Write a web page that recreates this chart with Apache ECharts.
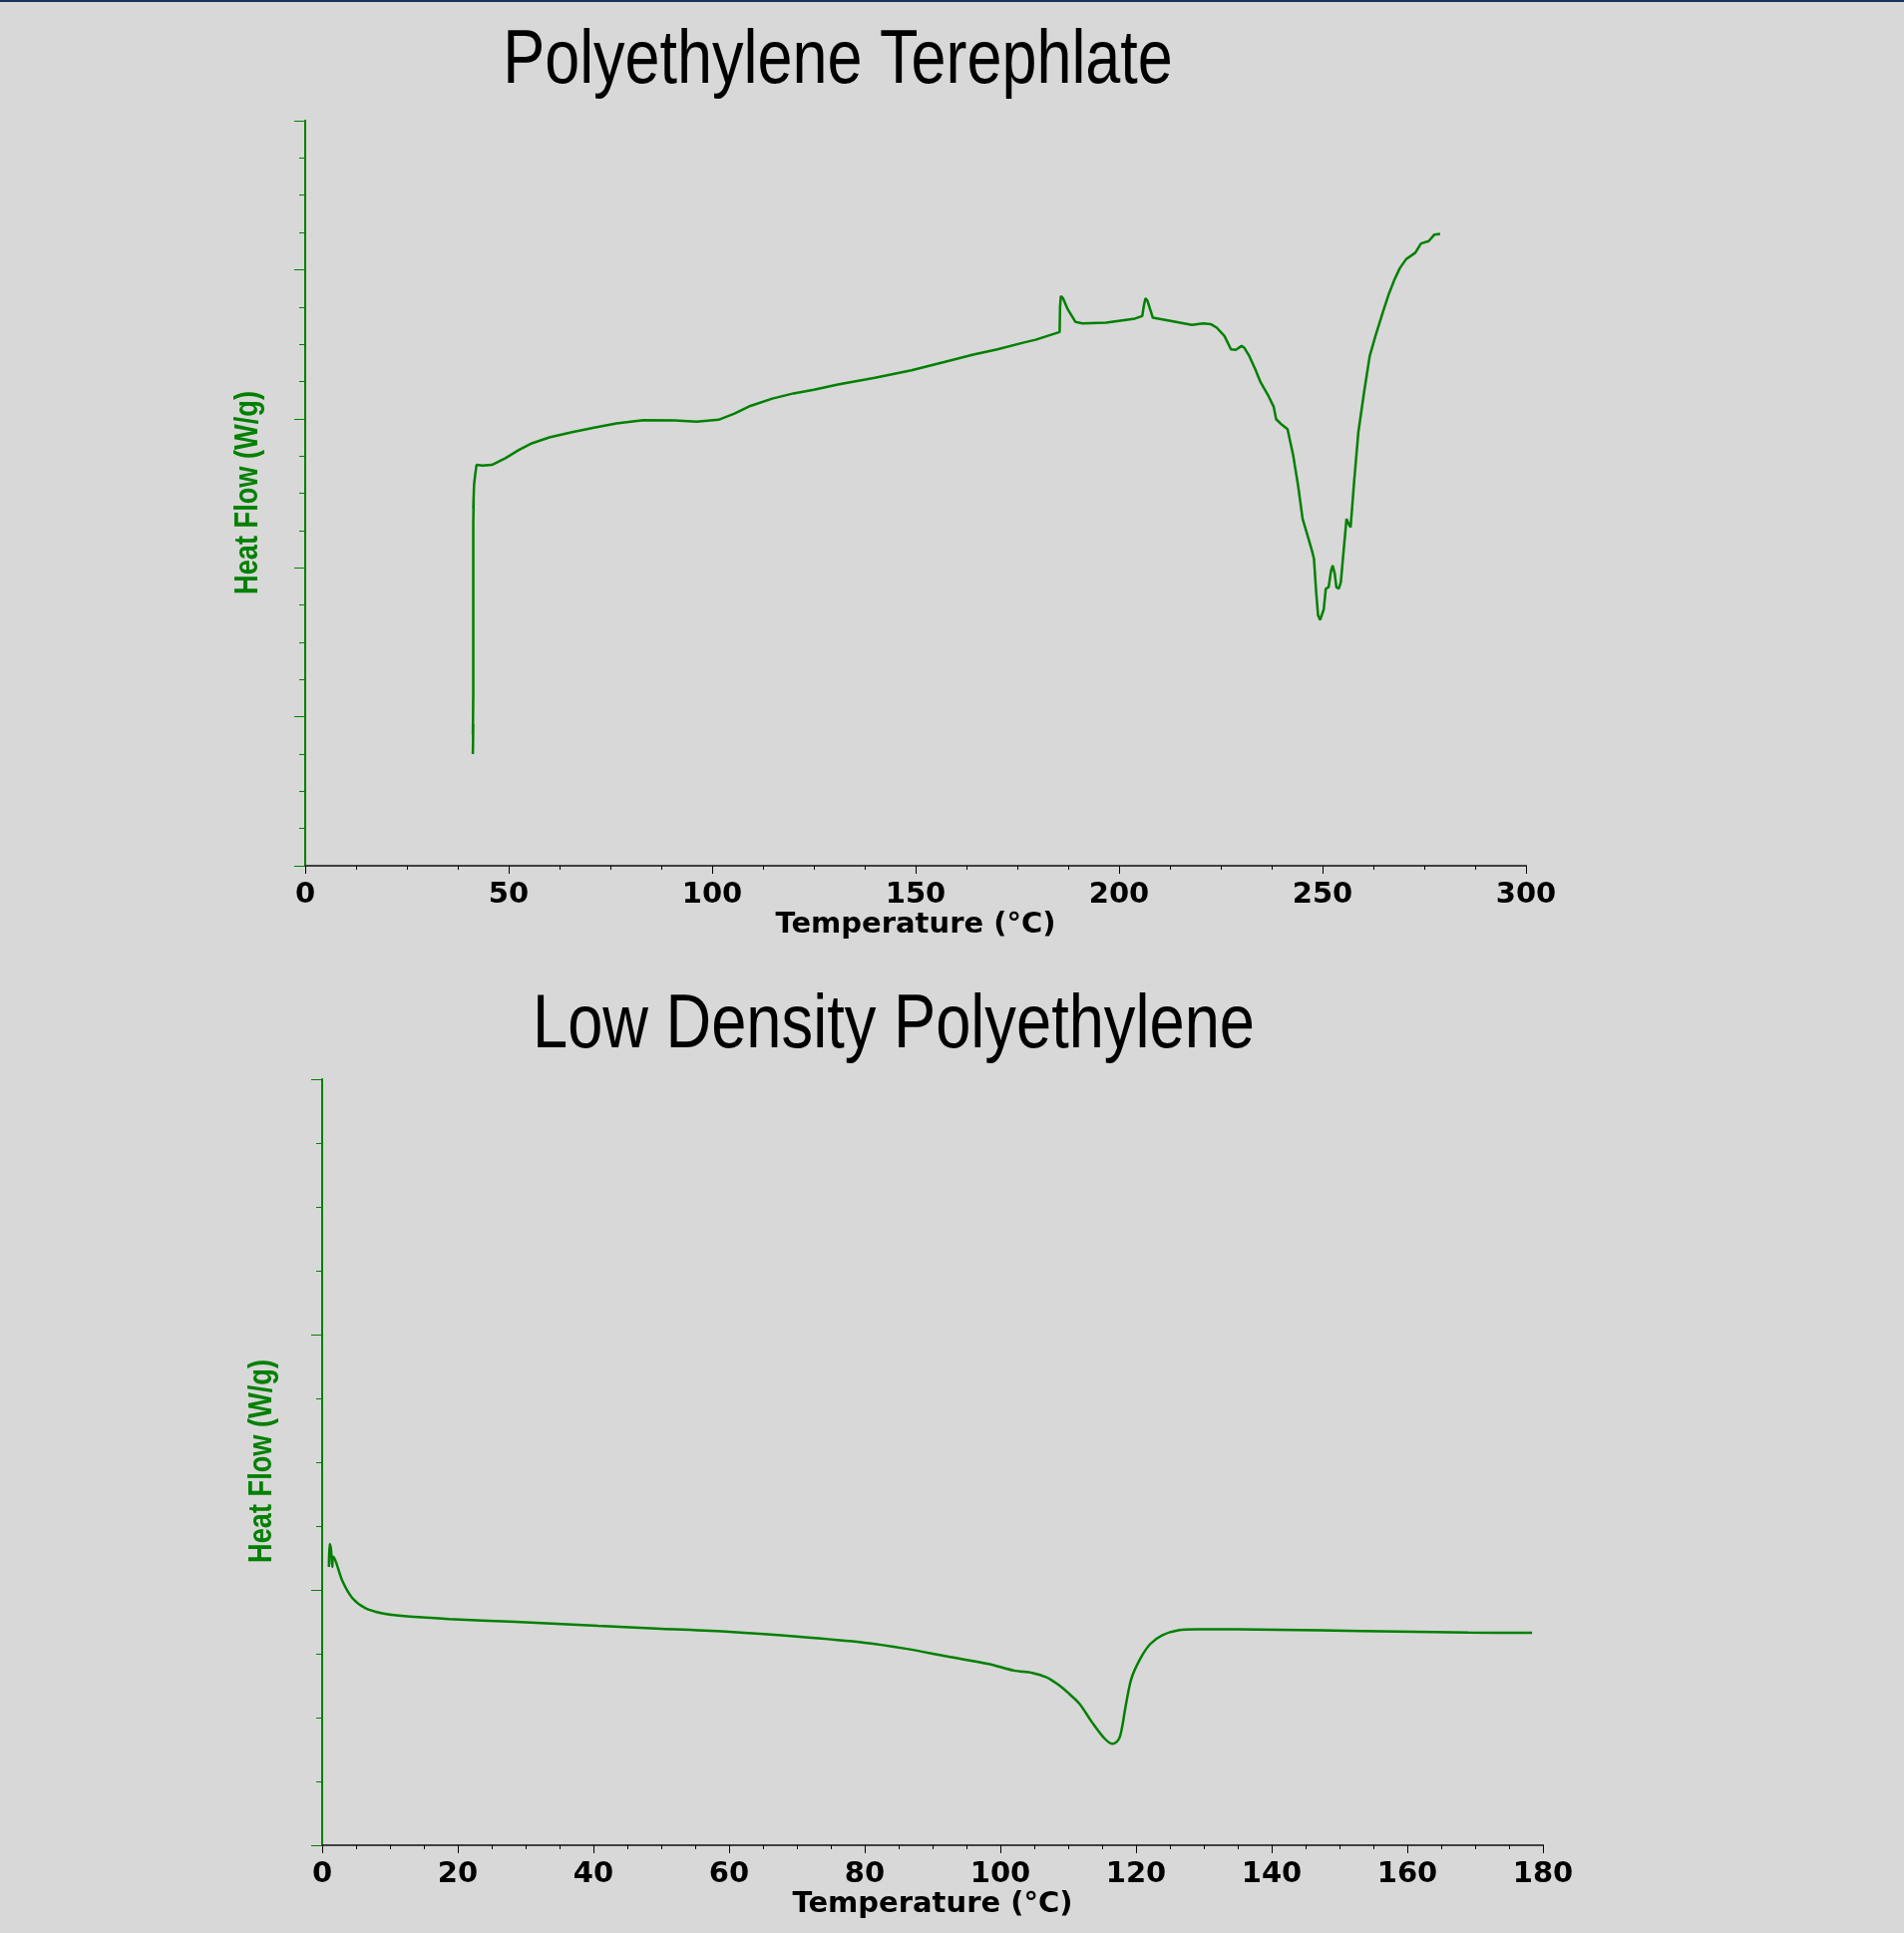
<!DOCTYPE html>
<html>
<head>
<meta charset="utf-8">
<script src="https://cdn.jsdelivr.net/npm/echarts@6/dist/echarts.min.js"></script>
<style>
html,body{margin:0;padding:0;background:#d8d8d8;}
#c{width:1909px;height:1938px;}
</style>
</head>
<body>
<div id="c"></div>
<script>
// ---- Data: Polyethylene Terephlate (PET) DSC curve ----
var petTemp = [41.2,41.3,41.2,41.3,41.3,41.3,41.4,41.3,41.5,41.8,42.1,43.5,45.9,49.2,52.5,55.7,60,65.6,71,76.5,83.1,90.8,96.2,101.6,105.5,109.4,114.8,120,125,130.9,140,149,157,164.2,170.1,176.4,179.5,185.4,185.5,185.7,186.2,187.4,189.3,191,196.8,203.9,205.7,206.1,206.5,207,208.3,212,217.9,220.7,222.5,224,225.9,227.5,228.7,230.1,230.8,232,233.5,234.8,236.7,238,238.6,240,241.4,242.8,244,245.1,246.5,247.5,247.9,248.4,248.9,249.4,249.8,250.3,250.8,251.5,252.1,252.5,253,253.4,254,254.5,255.2,255.9,256.5,256.9,257.8,258.8,260.2,261.6,263,264.8,266.2,267.7,269,270.5,272.8,274.2,276.1,277.5,278.9];
var petHeat = [7.5,9.5,8.8,11.5,18,23,24.6,24.0,25.6,26.3,26.9,26.85,26.9,27.35,27.9,28.35,28.75,29.1,29.4,29.68,29.9,29.88,29.8,29.93,30.35,30.86,31.35,31.7,31.95,32.3,32.75,33.25,33.8,34.3,34.66,35.1,35.3,35.82,37.5,38.23,38.1,37.34,36.49,36.4,36.45,36.72,36.89,37.6,38.08,37.9,36.78,36.6,36.29,36.4,36.35,36.11,35.55,34.66,34.62,34.88,34.75,34.21,33.3,32.43,31.53,30.8,29.97,29.6,29.3,27.52,25.5,23.28,22.0,21.04,20.6,18.5,16.8,16.5,16.58,17.2,18.59,18.7,19.8,20.15,19.6,18.7,18.6,19.03,21.2,23.28,22.9,22.72,25.9,29.08,31.76,34.21,35.55,37.12,38.3,39.35,40.1,40.69,41.14,41.76,41.92,42.36,42.41];

// ---- Data: Low Density Polyethylene (LDPE) DSC curve ----
var ldpeTemp = [1.0,1.1,1.3,1.5,1.6,2.0,3.0,4.46,6.4,8.87,11.3,18.7,28.5,40.7,50,60,70,80,86,92.2,98.3,102,104.7,106.8,108.5,109.9,111.7,113.5,115.4,116.6,117.5,118,118.4,119.3,120.6,122.1,123.9,126.4,128.8,141,153.2,169,178.4];
var ldpeHeat = [10.9,11.8,11.6,10.9,11.3,11.12,10.34,9.68,9.28,9.08,8.99,8.86,8.75,8.59,8.48,8.36,8.17,7.93,7.7,7.39,7.1,6.84,6.75,6.58,6.3,5.99,5.53,4.82,4.17,3.97,4.17,4.7,5.34,6.51,7.29,7.88,8.23,8.43,8.46,8.44,8.39,8.33,8.32];

// ---- Axis ranges / tick settings ----
var petX = {min: 0, max: 300, interval: 50};
var petY = {min: 0, max: 50, interval: 10};
var ldpeX = {min: 0, max: 180, interval: 20};
var ldpeY = {min: 0, max: 30, interval: 10};

var titles = ['Polyethylene Terephlate', 'Low Density Polyethylene'];
var xName = 'Temperature (\u00B0C)';
var yName = 'Heat Flow (W/g)';

var GREEN = '#008000';

function pairs(xs, ys){ return xs.map(function(x,i){ return [x, ys[i]]; }); }

function bottomX(gi, r){
  return {
    gridIndex: gi, type: 'value', position: 'bottom',
    min: r.min, max: r.max, interval: r.interval,
    axisLine: {show: true, lineStyle: {color: '#000', width: 1.5}},
    axisTick: {show: true, length: 8, lineStyle: {color: '#000', width: 1}},
    minorTick: {show: true, splitNumber: 4, length: 4, lineStyle: {color: '#000', width: 1}},
    splitLine: {show: false}, minorSplitLine: {show: false},
    axisLabel: {show: true, margin: 15, color: '#000', fontFamily: 'DejaVu Sans', fontWeight: 'bold', fontSize: 29},
    name: xName, nameLocation: 'middle', nameGap: 45,
    nameTextStyle: {color: '#000', fontFamily: 'DejaVu Sans', fontWeight: 'bold', fontSize: 29}
  };
}
function topX(gi, r){
  return {
    gridIndex: gi, type: 'value', position: 'top',
    min: r.min, max: r.max, interval: r.interval,
    axisLine: {show: true, lineStyle: {color: '#404040', width: 2}},
    axisTick: {show: false}, axisLabel: {show: false}, splitLine: {show: false}
  };
}
function leftY(gi, r){
  return {
    gridIndex: gi, type: 'value', position: 'left',
    min: r.min, max: r.max, interval: r.interval,
    axisLine: {show: true, lineStyle: {color: GREEN, width: 2}},
    axisTick: {show: true, length: 11, lineStyle: {color: GREEN, width: 1}},
    minorTick: {show: true, splitNumber: 4, length: 6, lineStyle: {color: GREEN, width: 1}},
    axisLabel: {show: false}, splitLine: {show: false}, minorSplitLine: {show: false}
  };
}
function rightY(gi, r){
  return {
    gridIndex: gi, type: 'value', position: 'right',
    min: r.min, max: r.max, interval: r.interval,
    axisLine: {show: true, lineStyle: {color: GREEN, width: 1}},
    axisTick: {show: false}, axisLabel: {show: false}, splitLine: {show: false}
  };
}

var chart = echarts.init(document.getElementById('c'), null, {renderer: 'canvas', width: 1909, height: 1938});

var titleFont = '76px "Liberation Sans", Arial, sans-serif';
var yNameFont = 'bold 34px "Liberation Sans", Arial, sans-serif';

chart.setOption({
  backgroundColor: '#d8d8d8',
  animation: false,
  grid: [
    {left: 306, top: 121, width: 1224, height: 747, show: false},
    {left: 323, top: 1082, width: 1224, height: 768, show: false}
  ],
  xAxis: [bottomX(0, petX), topX(0, petX), bottomX(1, ldpeX), topX(1, ldpeX)],
  yAxis: [leftY(0, petY), rightY(0, petY), leftY(1, ldpeY), rightY(1, ldpeY)],
  series: [
    {type: 'line', xAxisIndex: 0, yAxisIndex: 0, data: pairs(petTemp, petHeat),
     showSymbol: false, smooth: false, lineStyle: {color: GREEN, width: 2.5}},
    {type: 'line', xAxisIndex: 2, yAxisIndex: 2, data: pairs(ldpeTemp, ldpeHeat),
     showSymbol: false, smooth: 0.3, lineStyle: {color: GREEN, width: 2.5}}
  ],
  graphic: [
    {type: 'rect', left: 0, top: 0, shape: {width: 1909, height: 2}, style: {fill: '#12335f'}},
    {type: 'text', x: 840, y: 62, scaleX: 0.828,
     style: {text: titles[0], font: titleFont, fill: '#000', align: 'center', verticalAlign: 'middle'}},
    {type: 'text', x: 896, y: 1029, scaleX: 0.832,
     style: {text: titles[1], font: titleFont, fill: '#000', align: 'center', verticalAlign: 'middle'}},
    {type: 'text', x: 249, y: 494, rotation: Math.PI / 2, scaleX: 0.8,
     style: {text: yName, font: yNameFont, fill: GREEN, align: 'center', verticalAlign: 'middle'}},
    {type: 'text', x: 263, y: 1465, rotation: Math.PI / 2, scaleX: 0.8,
     style: {text: yName, font: yNameFont, fill: GREEN, align: 'center', verticalAlign: 'middle'}}
  ]
});
</script>
</body>
</html>
